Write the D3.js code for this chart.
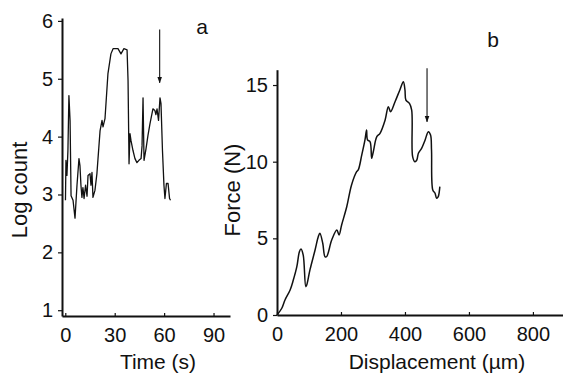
<!DOCTYPE html>
<html>
<head>
<meta charset="utf-8">
<script src="https://cdn.jsdelivr.net/npm/d3@7"></script>
<style>
  body { margin: 0; background: #fff; }
  text { font-family: "Liberation Sans", Arial, sans-serif; fill: #111; }
</style>
</head>
<body>
<svg id="chart" width="563" height="374"></svg>
<script>
// panel a: acoustic emission log count vs time
const timeA = [0.1, 0.4, 1.0, 1.6, 2.2, 2.9, 3.5, 4.7, 5.9, 7.1, 8.3, 8.9, 9.5, 10.1, 10.7, 11.4, 12.3, 13.2,
  13.8, 15.0, 15.6, 16.2, 16.8, 18.0, 19.2, 21.1, 22.3, 22.9, 24.1, 25.9, 27.7, 29.0, 32.0, 33.8, 35.6, 37.5,
  38.1, 38.7, 39.3, 39.9, 41.1, 42.3, 43.5, 44.7, 46.0, 46.6, 47.2, 47.8, 49.0, 50.2, 51.4, 53.2, 54.4, 55.0,
  55.7, 56.6, 57.5, 58.1, 59.0, 59.9, 60.5, 61.4, 62.4, 63.3, 63.9];
const logCountA = [2.90, 3.59, 3.33, 3.76, 4.71, 4.28, 2.98, 2.90, 2.59, 3.16, 3.62, 3.50, 3.16, 2.95, 3.12, 2.93, 3.16, 2.97,
  3.33, 3.36, 3.16, 3.38, 2.95, 3.07, 3.36, 4.10, 4.28, 4.17, 4.31, 5.09, 5.43, 5.52, 5.52, 5.43, 5.52, 5.50,
  4.97, 3.53, 4.05, 3.93, 3.76, 3.62, 3.55, 3.59, 3.62, 3.84, 4.67, 3.59, 3.79, 4.02, 4.22, 4.48, 4.45, 4.38,
  4.48, 4.28, 4.67, 4.57, 3.76, 3.16, 2.93, 3.19, 3.19, 2.93, 2.90];
const ticksTimeA = [0, 30, 60, 90];
const ticksLogA = [1, 2, 3, 4, 5, 6];

// panel b: force vs displacement
const dispB = [0, 15, 25, 41, 51, 62, 70, 75, 82, 90, 93, 103, 119, 129, 134, 143, 150, 155, 171, 187, 194, 202,
  218, 233, 249, 254, 265, 275, 280, 283, 291, 296, 301, 312, 322, 338, 348, 355, 369, 384, 395, 400, 403,
  414, 421, 424, 431, 437, 442, 452, 463, 473, 480, 483, 487, 494, 499, 504, 509];
const forceB = [0, 0.44, 0.98, 1.63, 2.28, 3.15, 4.13, 4.31, 3.91, 1.85, 1.96, 2.94, 4.24, 5.10, 5.33, 4.68, 3.80, 3.80, 4.89, 5.54, 5.22, 5.87,
  7.06, 8.48, 9.35, 9.46, 10.44, 11.42, 12.07, 11.42, 11.30, 10.22, 10.65, 11.63, 11.85, 12.72, 13.59, 13.26, 13.91, 14.68, 15.22, 14.68, 14.02,
  13.80, 13.37, 10.33, 10.00, 10.11, 10.55, 10.87, 11.42, 11.96, 11.74, 10.76, 8.15, 7.94, 7.61, 7.72, 8.37];
const ticksDispB = [0, 200, 400, 600, 800];
const ticksForceB = [0, 5, 10, 15];

const svg = d3.select('#chart');

// scales, panel a
const xA = d3.scaleLinear().domain([-2, 100]).range([62, 230]);
const yA = d3.scaleLinear().domain([0.9, 6.05]).range([316, 18]);
// scales, panel b
const xB = d3.scaleLinear().domain([0, 894]).range([277, 563]);
const yB = d3.scaleLinear().domain([0, 16]).range([315, 69.7]);

function styleAxis(g) {
    g.selectAll('path.domain').attr('stroke', '#111').attr('stroke-width', 2);
    g.selectAll('.tick line').attr('stroke', '#111').attr('stroke-width', 1.2);
    g.selectAll('.tick text').style('font-size', '20px').style('font-family', '"Liberation Sans", Arial, sans-serif').attr('fill', '#111');
}

// axes a
svg.append('g')
    .attr('transform', 'translate(0,' + yA.range()[0] + ')')
    .call(d3.axisBottom(xA).tickValues(ticksTimeA).tickFormat(d3.format('d')).tickSizeInner(-3).tickSizeOuter(0).tickPadding(12))
    .call(styleAxis);
svg.append('g')
    .attr('transform', 'translate(' + xA.range()[0] + ',0)')
    .call(d3.axisLeft(yA).tickValues(ticksLogA).tickFormat(d3.format('d')).tickSizeInner(4).tickSizeOuter(0).tickPadding(5))
    .call(styleAxis);

// axes b
svg.append('g')
    .attr('transform', 'translate(0,' + yB.range()[0] + ')')
    .call(d3.axisBottom(xB).tickValues(ticksDispB).tickFormat(d3.format('d')).tickSizeInner(-3).tickSizeOuter(0).tickPadding(12))
    .call(styleAxis);
svg.append('g')
    .attr('transform', 'translate(' + xB.range()[0] + ',0)')
    .call(d3.axisLeft(yB).tickValues(ticksForceB).tickFormat(d3.format('d')).tickSizeInner(4).tickSizeOuter(0).tickPadding(5))
    .call(styleAxis);

// curves
const lineA = d3.line().x((d, i) => xA(timeA[i])).y(d => yA(d));
svg.append('path')
    .datum(logCountA)
    .attr('d', lineA)
    .attr('fill', 'none')
    .attr('stroke', '#111')
    .attr('stroke-width', 1.3)
    .attr('stroke-linejoin', 'round');

const lineB = d3.line().x((d, i) => xB(dispB[i])).y(d => yB(d)).curve(d3.curveCatmullRom);
svg.append('path')
    .datum(forceB)
    .attr('d', lineB)
    .attr('fill', 'none')
    .attr('stroke', '#111')
    .attr('stroke-width', 1.5)
    .attr('stroke-linejoin', 'round');

// arrows marking failure point
const defs = svg.append('defs');
defs.append('marker')
    .attr('id', 'head')
    .attr('viewBox', '0 0 10 10')
    .attr('refX', 9).attr('refY', 5)
    .attr('markerWidth', 6).attr('markerHeight', 6)
    .attr('orient', 'auto')
    .append('path')
    .attr('d', 'M0,1.5 L10,5 L0,8.5 Z')
    .attr('fill', '#111');

svg.append('line')
    .attr('x1', xA(57.3)).attr('x2', xA(57.3))
    .attr('y1', yA(5.85)).attr('y2', yA(4.93))
    .attr('stroke', '#111').attr('stroke-width', 1.1)
    .attr('marker-end', 'url(#head)');
svg.append('line')
    .attr('x1', xB(469)).attr('x2', xB(469))
    .attr('y1', yB(16.1)).attr('y2', yB(12.6))
    .attr('stroke', '#111').attr('stroke-width', 1.1)
    .attr('marker-end', 'url(#head)');

// panel letters
svg.append('text').attr('x', 202).attr('y', 34).attr('text-anchor', 'middle').style('font-size', '21px').text('a');
svg.append('text').attr('x', 493).attr('y', 47).attr('text-anchor', 'middle').style('font-size', '21px').text('b');

// axis titles
svg.append('text').attr('x', 158).attr('y', 369).attr('text-anchor', 'middle').style('font-size', '21px').text('Time (s)');
svg.append('text').attr('x', 437).attr('y', 369).attr('text-anchor', 'middle').style('font-size', '21px').text('Displacement (µm)');
svg.append('text')
    .attr('transform', 'translate(27,190) rotate(-90)')
    .attr('text-anchor', 'middle').style('font-size', '22px').text('Log count');
svg.append('text')
    .attr('transform', 'translate(240,190) rotate(-90)')
    .attr('text-anchor', 'middle').style('font-size', '22px').text('Force (N)');
</script>
</body>
</html>
